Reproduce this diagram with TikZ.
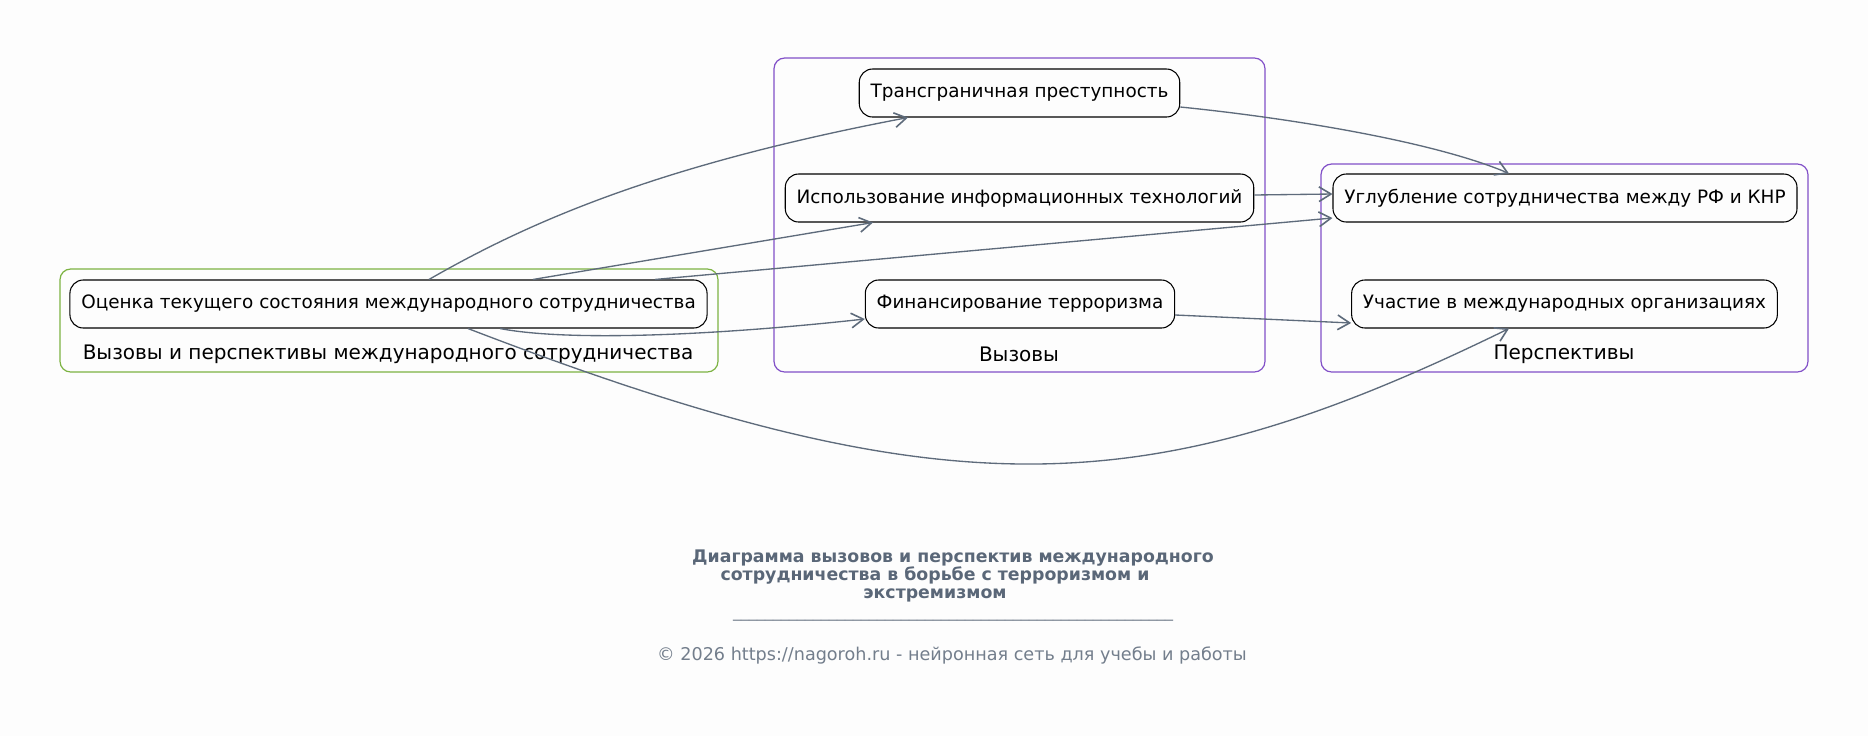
\documentclass[tikz,border=0pt]{standalone}
\usepackage{fontspec}
\setmainfont{DejaVu Sans}
\usetikzlibrary{arrows.meta,calc}
\definecolor{fond}{HTML}{FDFDFD}
\definecolor{lien}{HTML}{5E6B7B}
\definecolor{titre}{HTML}{5A6778}
\definecolor{vert}{HTML}{7CB342}
\definecolor{violet}{HTML}{8250C8}
\tikzset{
  boite/.style={draw=black,line width=0.8pt,rounded corners=10pt,minimum height=36pt,inner xsep=8.5pt,
    font=\fontsize{13.8}{17}\selectfont},
  groupe/.style={draw=#1,rounded corners=8pt,line width=0.9pt},
  etiq/.style={font=\fontsize{15}{18}\selectfont},
  fleche/.style={draw=lien,line width=1pt,-{Straight Barb[length=9pt,width=11pt,line width=1.2pt]}}
}
\begin{document}
\begin{tikzpicture}[x=0.75pt,y=-0.75pt]
% Mise en place
\fill[fond](0,0)rectangle(1868,736);
\useasboundingbox(0,0)rectangle(1868,736);
\draw[groupe=vert](60,269)rectangle(718,372);
\draw[groupe=violet](774,58)rectangle(1265,372);
\draw[groupe=violet](1321,164)rectangle(1808,372);
\node[etiq](g1)at(388,354){Вызовы и перспективы международного сотрудничества};
\node[etiq](g2)at(1019,354){Вызовы};
\node[etiq](g3)at(1564,354){Перспективы};
% Noeuds
\node[boite](o)at(388.5,304){Оценка текущего состояния международного сотрудничества};
\node[boite](t)at(1019.5,93){Трансграничная преступность};
\node[boite](i)at(1019.5,198){Использование информационных технологий};
\node[boite](f)at(1020,304){Финансирование терроризма};
\node[boite](u)at(1565,198){Углубление сотрудничества между РФ и КНР};
\node[boite](p)at(1564.5,304){Участие в международных организациях};
% Liens
\draw[fleche]($(o.north)+(40.5,0)$).. controls(529,222)and(658,165)..($(t.south)+(-111.5,0)$);
\draw[fleche]($(o.north)+(144.5,0)$)--($(i.south)+(-146.5,0)$);
\draw[fleche]($(o.north)+(266.5,0)$)--($(u.west)+(0,20)$);
\draw[fleche]($(o.south)+(111.5,0)$).. controls(570,342)and(720,335)..($(f.west)+(0,15)$);
\draw[fleche]($(o.south)+(79.5,0)$).. controls(950,514)and(1150,504)..($(p.south)+(-55.5,0)$);
\draw[fleche]($(t.east)+(0,14)$).. controls(1280,117)and(1430,140)..($(u.north)+(-56,0)$);
\draw[fleche]($(i.east)+(0,-3)$)--($(u.west)+(0,-4)$);
\draw[fleche]($(f.east)+(0,11)$)--($(p.west)+(0,19)$);
% Titre
\node[text=titre,align=center,font=\fontsize{13}{13.4}\selectfont\bfseries](titre)at(953,576)
  {Диаграмма вызовов и перспектив международного\\сотрудничества в борьбе с терроризмом и\rule{27pt}{0pt}\\экстремизмом\rule{27pt}{0pt}};
\node[text=titre!85,font=\fontsize{12}{14}\selectfont](trait)at(953,619){\_\_\_\_\_\_\_\_\_\_\_\_\_\_\_\_\_\_\_\_\_\_\_\_\_\_\_\_\_\_\_\_\_\_\_\_\_\_\_\_\_\_\_\_\_\_\_\_\_\_\_\_\_\_\_};
\node[text=titre!85,font=\fontsize{13.2}{15}\selectfont](copy)at(952,655){© 2026 https://nagoroh.ru - нейронная сеть для учебы и работы};
\end{tikzpicture}
\end{document}
